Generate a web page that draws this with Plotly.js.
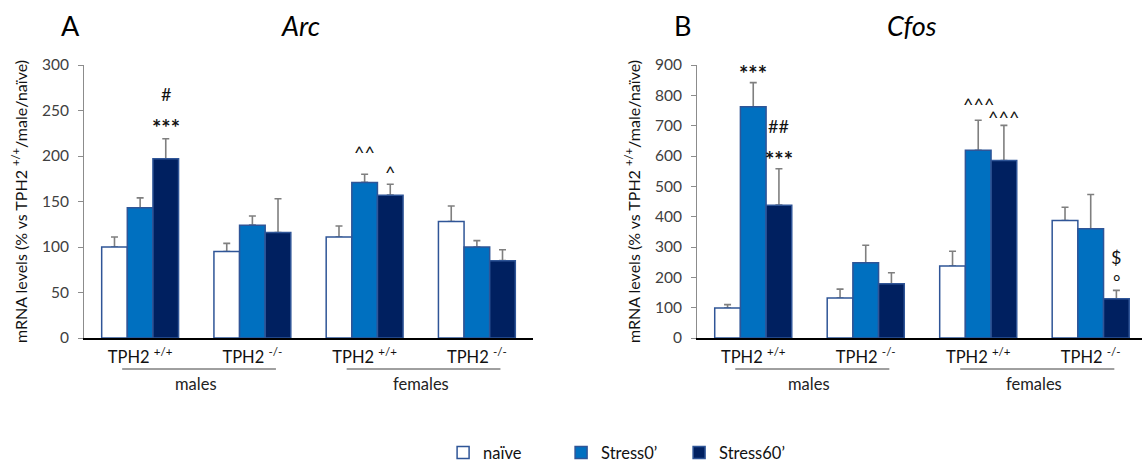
<!DOCTYPE html>
<html><head><meta charset="utf-8">
<script src="https://cdn.plot.ly/plotly-3.0.1.min.js"></script>
<style>body{margin:0;background:#fff}#c{width:1142px;height:466px}</style>
</head><body><div id="c"></div>
<script>
// ---- data ----
const groupIdx = [0, 1, 2, 3];
const tickLabels = ['TPH2 <sup>+/+</sup>', 'TPH2 <sup>-/-</sup>', 'TPH2 <sup>+/+</sup>', 'TPH2 <sup>-/-</sup>'];
const sexLabels = ['males', 'females'];
const seriesNames = ['naïve', 'Stress0’', 'Stress60’'];

const arcNaive = [100, 95, 111, 128];
const arcStress0 = [143, 124, 171, 100];
const arcStress60 = [197, 116, 157, 85];
const arcNaiveErr = [11, 9, 12, 17];
const arcStress0Err = [11, 10, 9, 7];
const arcStress60Err = [22, 37, 12, 12];

const cfosNaive = [99, 132, 237, 387];
const cfosStress0 = [762, 248, 619, 360];
const cfosStress60 = [438, 179, 585, 129];
const cfosNaiveErr = [11, 29, 49, 44];
const cfosStress0Err = [80, 58, 99, 113];
const cfosStress60Err = [120, 36, 116, 28];

// significance marks: text, group, series, y value
const arcSigText = ['#', '***', '^^', '^'];
const arcSigGroup = [0, 0, 2, 2];
const arcSigSeries = [2, 2, 1, 2];
const arcSigY = [268, 235, 204, 182];

const cfosSigText = ['***', '##', '***', '^^^', '^^^', '$', '°'];
const cfosSigGroup = [0, 0, 0, 2, 2, 3, 3];
const cfosSigSeries = [1, 2, 2, 1, 2, 2, 2];
const cfosSigY = [882, 699, 600, 770, 728, 268, 187];

// ---- style ----
const FONT = 'Lato, "Open Sans", sans-serif';
const fills = ['#FFFFFF', '#0070C0', '#002060'];
const edge = '#2F5597';
const errColor = '#7F7F7F';
const BARGAP = 0.315;

function panelTraces(vals, errs, xa, ya, legend) {
  const out = [];
  for (let s = 0; s < 3; s++) {
    // error-bar carrier (drawn beneath the visible bar)
    out.push({
      type: 'bar', x: groupIdx, y: vals[s], xaxis: xa, yaxis: ya,
      offsetgroup: String(s), showlegend: false, hoverinfo: 'skip',
      marker: {color: 'rgba(0,0,0,0)', line: {width: 0}},
      error_y: {type: 'data', symmetric: false, array: errs[s],
        arrayminus: errs[s].map(() => 0), color: errColor, thickness: 1.6, width: 3.5}
    });
    out.push({
      type: 'bar', x: groupIdx, y: vals[s], xaxis: xa, yaxis: ya,
      offsetgroup: String(s), name: seriesNames[s], showlegend: legend,
      marker: {color: fills[s], line: {color: edge, width: 1.5}}
    });
  }
  return out;
}

const data = [].concat(
  panelTraces([arcNaive, arcStress0, arcStress60], [arcNaiveErr, arcStress0Err, arcStress60Err], 'x', 'y', true),
  panelTraces([cfosNaive, cfosStress0, cfosStress60], [cfosNaiveErr, cfosStress0Err, cfosStress60Err], 'x2', 'y2', false)
);

const W = 1142;
const domA = [84 / W, 533 / W];
const domB = [697 / W, 1];
const rangeA = [-0.5, 3.5];
const rangeB = [-0.5, 3.456];
function barPx(dom, rng) {
  const catPx = (dom[1] - dom[0]) * W / (rng[1] - rng[0]);
  return catPx * (1 - BARGAP) / 3;
}

const annotations = [];
function sig(texts, groups, series, ys, xr, yr, bw) {
  for (let i = 0; i < texts.length; i++) {
    const isStar = texts[i].indexOf('*') >= 0;
    annotations.push({
      xref: xr, yref: yr, x: groups[i], y: ys[i], text: texts[i],
      xshift: (series[i] - 1) * bw, yshift: isStar ? -3 : 0, showarrow: false, yanchor: 'middle',
      font: {family: FONT, size: isStar ? 22 : 18, color: '#111111', weight: isStar ? 'bold' : 'normal'}
    });
  }
}
sig(arcSigText, arcSigGroup, arcSigSeries, arcSigY, 'x', 'y', barPx(domA, rangeA));
sig(cfosSigText, cfosSigGroup, cfosSigSeries, cfosSigY, 'x2', 'y2', barPx(domB, rangeB));

// panel letters and gene titles
const heads = [['A', 70, false], ['Arc', 300, true], ['B', 682, false], ['Cfos', 912, true]];
heads.forEach(h => annotations.push({
  xref: 'paper', yref: 'paper', x: h[1] / W, y: 1.1465, xanchor: 'center', yanchor: 'middle',
  text: h[2] ? '<i>' + h[0] + '</i>' : h[0], showarrow: false,
  font: {family: FONT, size: 27, color: '#000'}
}));

// sex group labels + lines
const shapes = [];
[['x', 'y'], ['x2', 'y2']].forEach(ax => {
  [0, 1].forEach(k => {
    const c = k * 2;
    shapes.push({type: 'line', xref: ax[0], yref: 'paper', x0: c - 0.16, x1: c + 1.21,
      y0: -0.1136, y1: -0.1136, line: {color: '#404040', width: 1}});
    annotations.push({xref: ax[0], yref: 'paper', x: c + 0.5, y: -0.17, text: sexLabels[k],
      showarrow: false, yanchor: 'middle', font: {family: FONT, size: 16.5, color: '#222'}});
  });
});

const yTitle = 'mRNA levels (% vs TPH2 <sup>+/+</sup>/male/naïve)';
function yaxis(dom, rng, dtick, anchor) {
  return {
    domain: [0, 1], range: rng, dtick: dtick, anchor: anchor,
    showgrid: false, zeroline: false, showline: true, linecolor: '#8C8C8C', linewidth: 1,
    ticks: 'outside', ticklen: 5, tickcolor: '#8C8C8C', ticklabelstandoff: 6,
    tickfont: {family: FONT, size: 15.5, color: '#404040'},
    title: {text: yTitle, font: {family: FONT, size: 16, color: '#111'}, standoff: 10}
  };
}
function xaxis(dom, rng, anchor) {
  return {
    domain: dom, range: rng, anchor: anchor, tickmode: 'array', tickvals: groupIdx, ticktext: tickLabels,
    showgrid: false, zeroline: false, showline: true, linecolor: '#000', linewidth: 2,
    ticks: '', ticklabelstandoff: 3,
    tickfont: {family: FONT, size: 16.5, color: '#111'}
  };
}

const layout = {
  width: 1142, height: 466, paper_bgcolor: '#fff', plot_bgcolor: '#fff',
  margin: {l: 0, r: 0, t: 65, b: 128},
  barmode: 'group', bargap: BARGAP, bargroupgap: 0,
  font: {family: FONT},
  xaxis: xaxis(domA, rangeA, 'y'),
  yaxis: yaxis(domA, [0, 300], 50, 'x'),
  xaxis2: xaxis(domB, rangeB, 'y2'),
  yaxis2: yaxis(domB, [0, 900], 100, 'x2'),
  showlegend: true,
  legend: {orientation: 'h', xref: 'container', yref: 'container', x: 0.388, xanchor: 'left',
    y: 0.066, yanchor: 'top',
    font: {family: FONT, size: 16.5, color: '#111'}, traceorder: 'normal', entrywidth: 73},
  annotations: annotations, shapes: shapes
};

Plotly.newPlot('c', data, layout, {staticPlot: true});
</script>
</body></html>
